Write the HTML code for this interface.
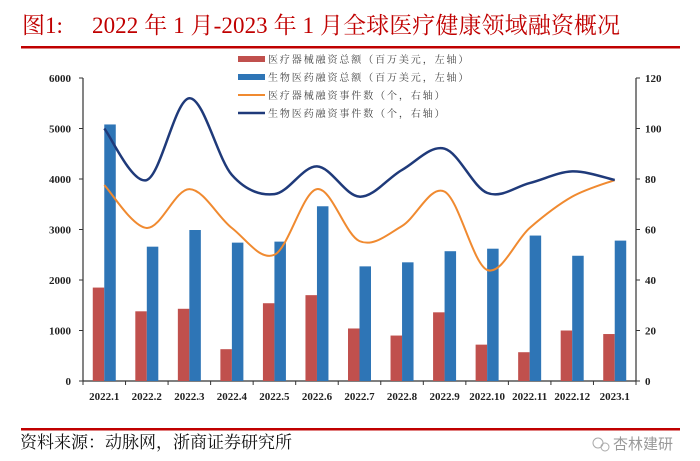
<!DOCTYPE html>
<html><head><meta charset="utf-8"><style>
body{margin:0;background:#fff;width:700px;height:461px;overflow:hidden}
svg{display:block}
.cn{font-family:"Liberation Serif","Noto Serif CJK SC",serif}
.tk{font-family:"Liberation Serif",serif;font-size:11px;font-weight:bold;fill:#222}
.lg{font-family:"Noto Serif CJK SC",serif;font-size:10px;fill:#444;letter-spacing:1.9px}
</style></head><body>
<svg id="chart" width="700" height="461">
<g>
<text x="22" y="33" class="cn" font-size="23" fill="#c00000">图1:</text>
<text x="92" y="33" class="cn" font-size="23" fill="#c00000" textLength="528" lengthAdjust="spacing">2022 年 1 月-2023 年 1 月全球医疗健康领域融资概况</text>
</g>
<rect x="21" y="46" width="659" height="2.5" fill="#c00000"/>
<rect x="21" y="428" width="659" height="2.5" fill="#c00000"/>
<text x="20" y="448" class="cn" font-size="17" fill="#111">资料来源：动脉网，浙商证券研究所</text>
<g>
<circle cx="598" cy="443" r="5" fill="none" stroke="#aaa" stroke-width="1"/>
<circle cx="605" cy="447" r="4" fill="none" stroke="#aaa" stroke-width="1"/>
<text x="613" y="449" font-family="'Liberation Sans','Noto Sans CJK SC',sans-serif" font-size="15" fill="#999">杏林建研</text>
</g>
<g id="legend">
<rect x="238" y="56" width="27" height="6" fill="#c0504d"/>
<text x="268" y="63" class="lg">医疗器械融资总额（百万美元，左轴）</text>
<rect x="238" y="74" width="27" height="6" fill="#2e75b6"/>
<text x="268" y="81" class="lg">生物医药融资总额（百万美元，左轴）</text>
<line x1="238" y1="95" x2="265" y2="95" stroke="#f08a30" stroke-width="2"/>
<text x="268" y="99" class="lg">医疗器械融资事件数（个，右轴）</text>
<line x1="238" y1="113" x2="265" y2="113" stroke="#1f3a7a" stroke-width="2.5"/>
<text x="268" y="117" class="lg">生物医药融资事件数（个，右轴）</text>
</g>
</svg>
<script>
const categories=["2022.1","2022.2","2022.3","2022.4","2022.5","2022.6","2022.7","2022.8","2022.9","2022.10","2022.11","2022.12","2023.1"];
const deviceAmount=[1850,1380,1430,630,1540,1700,1040,900,1360,720,570,1000,930];
const pharmaAmount=[5080,2660,2990,2740,2760,3460,2270,2350,2570,2620,2880,2480,2780];
const deviceCount=[77.6,60.6,76,60.6,50,76,55.4,61.4,75,44,60.6,73,79.6];
const pharmaCount=[100,79.6,112,81.6,74,85,73,83.6,92,74.5,78.4,83,79.6];
const leftTicks=[0,1000,2000,3000,4000,5000,6000];
const rightTicks=[0,20,40,60,80,100,120];
const NS="http://www.w3.org/2000/svg";
const svg=document.getElementById('chart');
const X0=83,X1=636,Y0=381,Y1=78;
const band=(X1-X0)/categories.length;
const xc=i=>X0+band*(i+0.5);
const yL=v=>Y0-(v/6000)*(Y0-Y1);
const yR=v=>Y0-(v/120)*(Y0-Y1);
function mk(t,a){const e=document.createElementNS(NS,t);for(const k in a)e.setAttribute(k,a[k]);svg.appendChild(e);return e;}
let e=mk('line',{x1:X0,y1:Y1,x2:X0,y2:Y0,stroke:'#333','stroke-width':1.2});


e=mk('line',{x1:X1,y1:Y1,x2:X1,y2:Y0,stroke:'#333','stroke-width':1.2});


e=mk('line',{x1:X0,y1:Y0,x2:X1,y2:Y0,stroke:'#333','stroke-width':1.2});


leftTicks.forEach(v=>{
  mk('line',{x1:X0-4,y1:yL(v),x2:X0,y2:yL(v),stroke:'#333'});
  const t=mk('text',{x:X0-12,y:yL(v)+4,'text-anchor':'end',class:'tk'});t.textContent=v;
  
  
});
rightTicks.forEach(v=>{
  mk('line',{x1:X1,y1:yR(v),x2:X1+4,y2:yR(v),stroke:'#333'});
  const t=mk('text',{x:X1+9,y:yR(v)+4,'text-anchor':'start',class:'tk'});t.textContent=v;
  
  
});
for(let i=0;i<=categories.length;i++)mk('line',{x1:X0+band*i,y1:Y0,x2:X0+band*i,y2:Y0+4,stroke:'#333'});
categories.forEach((c,i)=>{
  const t=mk('text',{x:xc(i),y:Y0+19,'text-anchor':'middle',class:'tk'});t.textContent=c;
  
  
  const bw=11.5;
  const r=mk('rect',{x:xc(i)-bw,y:yL(deviceAmount[i]),width:bw,height:Y0-yL(deviceAmount[i]),fill:'#c0504d'});
  
  
  const b=mk('rect',{x:xc(i),y:yL(pharmaAmount[i]),width:bw,height:Y0-yL(pharmaAmount[i]),fill:'#2e75b6'});
  
  
});
function smooth(vals){
  const p=vals.map((v,i)=>[xc(i),yR(v)]);
  let d='M'+p[0][0]+','+p[0][1];
  for(let i=0;i<p.length-1;i++){
    const p0=p[i-1]||p[i],p1=p[i],p2=p[i+1],p3=p[i+2]||p2;
    const c1=[p1[0]+(p2[0]-p0[0])/6,p1[1]+(p2[1]-p0[1])/6];
    const c2=[p2[0]-(p3[0]-p1[0])/6,p2[1]-(p3[1]-p1[1])/6];
    d+=`C${c1[0]},${c1[1]} ${c2[0]},${c2[1]} ${p2[0]},${p2[1]}`;
  }
  return d;
}
e=mk('path',{d:smooth(deviceCount),fill:'none',stroke:'#f08a30','stroke-width':2});


e=mk('path',{d:smooth(pharmaCount),fill:'none',stroke:'#1f3a7a','stroke-width':2.5});


</script>
</body></html>
